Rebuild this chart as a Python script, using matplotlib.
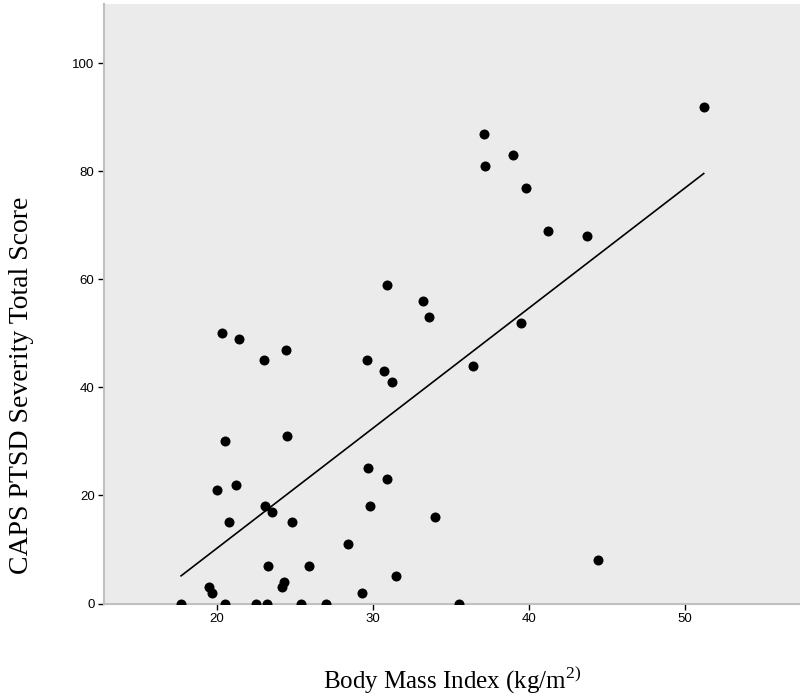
import numpy as np
import matplotlib
matplotlib.use('Agg')
import matplotlib.pyplot as plt

plt.rcParams['font.family'] = 'Liberation Sans'
plt.rcParams['mathtext.fontset'] = 'custom'
plt.rcParams['mathtext.rm'] = 'Liberation Serif'

# BMI (x) and CAPS severity (y)
bmi = [17.7, 19.5, 19.7, 20.5, 22.5, 23.2, 25.4, 27.0, 35.5,
       20.3, 21.4, 23.0, 24.4, 29.6, 30.7, 31.2,
       20.5, 24.5, 29.7, 30.9, 20.0, 21.2, 23.1, 23.5, 29.8,
       20.8, 24.8, 28.4, 23.3, 25.9, 31.5, 24.3, 24.2, 29.3,
       37.1, 37.2, 39.0, 39.8, 41.2, 43.7, 30.9, 33.2, 33.6, 39.5,
       36.4, 34.0, 44.4, 51.2]
caps = [0, 3, 2, 0, 0, 0, 0, 0, 0,
        50, 49, 45, 47, 45, 43, 41,
        30, 31, 25, 23, 21, 22, 18, 17, 18,
        15, 15, 11, 7, 7, 5, 4, 3, 2,
        87, 81, 83, 77, 69, 68, 59, 56, 53, 52,
        44, 16, 8, 92]

x_ticks = [20, 30, 40, 50]
y_ticks = [0, 20, 40, 60, 80, 100]

bmi = np.array(bmi)
caps = np.array(caps)

# linear fit line
slope, icpt = np.polyfit(bmi, caps, 1)
fit_x = np.array([bmi.min(), bmi.max()])
fit_y = slope * fit_x + icpt

fig = plt.figure(figsize=(8, 6.96), dpi=100)
ax = fig.add_axes([0.1304, 0.1329, 0.8696, 0.8614])
ax.set_facecolor('#ebebeb')

ax.scatter(bmi, caps, s=52, color='black', zorder=3, linewidths=0)
ax.plot(fit_x, fit_y, color='black', lw=1.2, zorder=2)

ax.set_xlim(12.78, 57.37)
ax.set_ylim(0, 111)
ax.set_xticks(x_ticks)
ax.set_yticks(y_ticks)
ax.tick_params(length=4, width=1, color='black', labelsize=9.5, pad=3)

for s in ['top', 'right']:
    ax.spines[s].set_visible(False)
for s in ['left', 'bottom']:
    ax.spines[s].set_color('#c0c0c0')
    ax.spines[s].set_linewidth(1.5)

fig.text(452/800, 1 - 680/696, 'Body Mass Index (kg/m$^{2)}$',
         family='Liberation Serif', fontsize=18, ha='center', va='center')
fig.text(22/800, 1 - 385/696, 'CAPS PTSD Severity Total Score',
         family='Liberation Serif', fontsize=20, rotation=90,
         ha='center', va='center')

fig.savefig('out.png', dpi=100)
